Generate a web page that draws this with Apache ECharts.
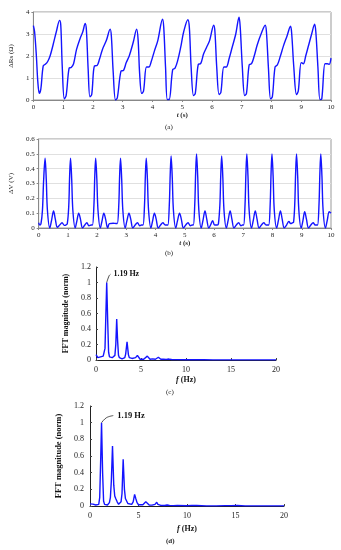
<!DOCTYPE html>
<html>
<head>
<meta charset="utf-8">
<script src="https://cdn.jsdelivr.net/npm/echarts@6/dist/echarts.min.js"></script>
<style>
html,body{margin:0;padding:0;background:#fff;}
#c{width:341px;height:550px;}
</style>
</head>
<body>
<div id="c"></div>
<script>
// ---- (a) ΔRs vs time ----
var tA = [0.00,0.04,0.10,0.15,0.20,0.25,0.33,0.40,0.48,0.56,0.66,0.77,0.88,0.92,0.97,1.04,1.10,1.20,1.27,1.35,1.45,1.57,1.66,1.74,1.78,1.84,1.90,1.96,2.05,2.14,2.22,2.32,2.45,2.58,2.62,2.68,2.76,2.82,2.94,3.03,3.12,3.22,3.35,3.47,3.52,3.57,3.64,3.70,3.80,3.88,3.96,4.06,4.18,4.34,4.38,4.44,4.50,4.56,4.68,4.76,4.85,4.95,5.05,5.19,5.24,5.30,5.38,5.44,5.54,5.62,5.72,5.82,5.92,6.06,6.10,6.16,6.24,6.30,6.40,6.48,6.58,6.68,6.80,6.91,6.95,7.02,7.10,7.16,7.25,7.33,7.42,7.52,7.65,7.79,7.83,7.90,7.97,8.03,8.12,8.20,8.30,8.40,8.52,8.64,8.68,8.75,8.84,8.90,9.00,9.07,9.15,9.25,9.35,9.45,9.49,9.56,9.63,9.69,9.80,9.88,9.94,10.00];
var vA = [3.38,3.10,2.0,0.8,0.30,0.5,1.55,1.62,1.75,2.0,2.5,3.1,3.62,3.4,1.5,0.05,0.2,1.45,1.48,1.65,2.3,2.8,3.1,3.48,3.2,1.4,0.15,0.25,1.55,1.57,1.85,2.3,2.7,3.22,2.9,1.3,0.0,0.1,1.3,1.35,1.7,2.0,2.6,3.22,2.7,1.2,0.3,0.4,1.5,1.5,1.75,2.2,2.7,3.67,3.3,1.5,0.02,0.02,1.38,1.45,1.8,2.4,3.1,3.65,3.3,1.5,0.2,0.3,1.62,1.65,2.1,2.4,2.7,3.4,3.1,1.5,0.25,0.35,1.5,1.5,1.9,2.4,3.0,3.76,3.3,1.5,0.2,0.3,1.6,1.65,2.0,2.5,3.0,3.40,3.1,1.4,0.05,0.15,1.5,1.6,2.0,2.45,2.9,3.35,3.0,1.5,0.25,0.4,1.7,1.65,2.0,2.5,3.0,3.44,3.1,1.5,0.02,0.05,1.65,1.65,1.62,1.90];

// ---- (b) ΔV vs time ----
var tB = [0.00,0.04,0.08,0.13,0.17,0.22,0.26,0.30,0.38,0.44,0.51,0.57,0.64,0.72,0.80,0.88,0.93,
0.98,1.03,1.06,1.09,1.13,1.17,1.25,1.31,1.37,1.43,1.50,1.58,1.65,1.72,1.80,
1.84,1.89,1.92,1.95,1.99,2.03,2.11,2.17,2.23,2.29,2.36,2.42,2.55,2.65,
2.69,2.74,2.77,2.80,2.84,2.88,2.96,3.02,3.09,3.15,3.22,3.30,3.38,3.46,3.52,
3.57,3.62,3.65,3.68,3.72,3.76,3.84,3.90,3.96,4.02,4.09,4.17,4.25,4.33,4.38,
4.42,4.47,4.50,4.53,4.57,4.61,4.69,4.75,4.82,4.88,4.95,5.03,5.11,5.19,5.25,
5.29,5.34,5.37,5.40,5.44,5.48,5.56,5.62,5.69,5.75,5.82,5.88,5.95,6.02,6.11,
6.15,6.20,6.23,6.26,6.30,6.34,6.42,6.48,6.55,6.61,6.68,6.76,6.84,6.92,6.97,
7.01,7.06,7.09,7.12,7.16,7.20,7.28,7.34,7.41,7.47,7.54,7.62,7.70,7.78,7.83,
7.87,7.92,7.95,7.98,8.02,8.06,8.14,8.20,8.27,8.33,8.40,8.48,8.56,8.62,8.68,
8.72,8.76,8.79,8.82,8.86,8.90,8.98,9.04,9.10,9.16,9.23,9.31,9.39,9.46,9.50,
9.54,9.59,9.62,9.65,9.69,9.73,9.81,9.87,9.94,10.00];
var vB = [0.035,0.02,0.03,0.12,0.32,0.47,0.33,0.12,0.0,0.05,0.115,0.06,0.005,0.02,0.035,0.018,0.02,
0.03,0.15,0.35,0.47,0.33,0.12,0.0,0.05,0.10,0.06,0.0,0.02,0.035,0.015,0.02,
0.02,0.15,0.35,0.47,0.33,0.12,0.0,0.05,0.10,0.06,0.0,0.03,0.032,0.03,
0.03,0.15,0.35,0.47,0.33,0.12,0.0,0.05,0.10,0.06,0.0,0.02,0.035,0.015,0.02,
0.02,0.15,0.35,0.47,0.33,0.12,0.0,0.05,0.10,0.06,0.0,0.02,0.035,0.02,0.02,
0.02,0.16,0.36,0.485,0.34,0.12,0.0,0.05,0.10,0.06,0.0,0.02,0.035,0.015,0.02,
0.02,0.16,0.37,0.50,0.35,0.12,0.0,0.05,0.115,0.06,0.0,0.02,0.05,0.02,0.02,
0.03,0.16,0.36,0.485,0.34,0.12,0.0,0.05,0.115,0.06,0.0,0.02,0.035,0.015,0.02,
0.02,0.16,0.37,0.50,0.35,0.12,0.0,0.05,0.115,0.06,0.0,0.02,0.035,0.02,0.02,
0.02,0.16,0.37,0.50,0.35,0.12,0.0,0.05,0.115,0.06,0.0,0.02,0.045,0.03,0.035,
0.04,0.16,0.37,0.50,0.35,0.12,0.0,0.05,0.11,0.06,0.0,0.02,0.035,0.02,0.02,
0.02,0.16,0.37,0.50,0.35,0.12,0.0,0.05,0.11,0.10];

// ---- (c) FFT ----
var fC = [0.0,0.1,0.2,0.3,0.4,0.5,0.6,0.7,0.8,0.9,1.0,1.1,1.19,1.3,1.4,1.5,1.6,1.7,1.8,1.9,2.0,2.1,2.2,2.3,2.4,2.5,2.6,2.7,2.8,2.9,3.0,3.1,3.2,3.3,3.45,3.6,3.7,3.8,3.9,4.0,4.2,4.4,4.6,4.75,4.9,5.1,5.3,5.5,5.7,5.85,6.0,6.3,6.6,6.8,6.93,7.05,7.2,7.5,7.8,8.1,8.4,9.0,10,11,12,13,14,15,16,17,18,19,20];
var mC = [0.07,0.06,0.03,0.05,0.02,0.04,0.065,0.04,0.05,0.06,0.15,0.6,1.0,0.5,0.1,0.04,0.02,0.035,0.03,0.01,0.03,0.06,0.2,0.53,0.25,0.06,0.03,0.02,0.03,0.015,0.01,0.025,0.03,0.08,0.235,0.07,0.03,0.015,0.01,0.02,0.015,0.03,0.06,0.035,0.01,0.005,0.01,0.02,0.05,0.03,0.01,0.015,0.01,0.02,0.035,0.02,0.01,0.01,0.008,0.012,0.006,0.005,0.004,0.003,0.003,0.002,0.002,0.002,0.002,0.002,0.002,0.002,0.002];

// ---- (d) FFT ----
var fD = [0.0,0.1,0.2,0.3,0.4,0.5,0.6,0.7,0.8,0.9,1.0,1.1,1.19,1.3,1.4,1.5,1.6,1.7,1.8,1.9,2.0,2.1,2.2,2.32,2.45,2.55,2.65,2.8,2.95,3.1,3.2,3.3,3.42,3.55,3.65,3.75,3.9,4.1,4.3,4.45,4.6,4.72,4.85,5.0,5.2,5.45,5.6,5.75,5.9,6.1,6.4,6.7,6.88,7.0,7.3,7.7,7.95,8.05,8.2,8.6,9.0,9.2,10.0,10.5,10.7,11.0,11.2,12,13,13.9,14.1,14.6,14.8,15.2,15.4,16,17,18,19,20];
var mD = [0.025,0.02,0.018,0.022,0.015,0.02,0.012,0.01,0.012,0.02,0.1,0.55,1.0,0.4,0.06,0.02,0.01,0.008,0.012,0.02,0.04,0.1,0.3,0.72,0.25,0.12,0.09,0.05,0.02,0.02,0.05,0.15,0.56,0.2,0.09,0.07,0.03,0.015,0.02,0.05,0.14,0.09,0.04,0.015,0.008,0.015,0.03,0.05,0.03,0.012,0.01,0.02,0.045,0.02,0.008,0.006,0.012,0.02,0.008,0.005,0.008,0.004,0.003,0.007,0.003,0.006,0.003,0.002,0.002,0.005,0.002,0.004,0.002,0.006,0.002,0.002,0.002,0.002,0.002,0.002];

// ---- annotations ----
var peakLabel = '1.19 Hz';
var leaderC = [[1.19,1.0],[1.45,1.085],[1.6,1.105]];
var leaderD = [[1.19,1.0],[1.7,1.06],[2.4,1.085]];

function zip(a,b){var r=[];for(var i=0;i<a.length;i++){r.push([a[i],b[i]]);}return r;}

var SERIF = "'Liberation Serif','DejaVu Serif',serif";
var BLUE = '#1414ff';

function timeX(idx){
  return {type:'value',gridIndex:idx,min:0,max:10,interval:1,
    name:'{i|t} (s)',nameLocation:'middle',nameGap:12,
    nameTextStyle:{fontFamily:SERIF,fontSize:7,fontWeight:'bold',color:'#222',rich:{i:{fontStyle:'italic',fontFamily:SERIF,fontSize:7,fontWeight:'bold',color:'#222'}}},
    axisLine:{show:true,lineStyle:{color:'#888',width:1}},
    axisTick:{show:true,length:2,lineStyle:{color:'#888'}},
    axisLabel:{fontFamily:SERIF,fontSize:7,color:'#222',margin:4},
    splitLine:{show:false}};
}
function fftX(idx,gap){
  return {type:'value',gridIndex:idx,min:0,max:20,interval:5,
    name:'{i|f} (Hz)',nameLocation:'middle',nameGap:gap,
    nameTextStyle:{fontFamily:SERIF,fontSize:8,fontWeight:'bold',color:'#111',rich:{i:{fontStyle:'italic',fontFamily:SERIF,fontSize:8,fontWeight:'bold',color:'#111'}}},
    axisLine:{show:true,lineStyle:{color:'#222',width:1}},
    axisTick:{show:true,inside:true,length:2,lineStyle:{color:'#444'}},
    axisLabel:{fontFamily:SERIF,fontSize:8,color:'#222',margin:6},
    splitLine:{show:false}};
}

var option = {
  animation:false,
  backgroundColor:'#fff',
  grid:[
    {left:29,top:12,width:302,height:88,show:true,borderColor:'#999',borderWidth:1},
    {left:29,top:139,width:302,height:89,show:true,borderColor:'#999',borderWidth:1},
    {left:96,top:267,width:180,height:93},
    {left:90,top:406,width:194,height:100}
  ],
  xAxis:[timeX(0),timeX(1),fftX(2,16),fftX(3,19)],
  yAxis:[
    {type:'value',gridIndex:0,min:0,max:4,interval:1,name:'ΔRs (Ω)',nameLocation:'middle',nameGap:15,
      nameTextStyle:{fontFamily:SERIF,fontSize:7,color:'#222'},
      axisLine:{show:true,lineStyle:{color:'#888'}},axisTick:{show:true,length:2,lineStyle:{color:'#888'}},
      axisLabel:{fontFamily:SERIF,fontSize:7,color:'#222',margin:4},
      splitLine:{show:true,lineStyle:{color:'#e0e0e0',width:1}}},
    {type:'value',gridIndex:1,min:0,max:0.6,interval:0.1,name:'ΔV (V)',nameLocation:'middle',nameGap:17,
      nameTextStyle:{fontFamily:SERIF,fontSize:7,color:'#222'},
      axisLine:{show:true,lineStyle:{color:'#888'}},axisTick:{show:true,length:2,lineStyle:{color:'#888'}},
      axisLabel:{fontFamily:SERIF,fontSize:7,color:'#222',margin:4},
      splitLine:{show:true,lineStyle:{color:'#e0e0e0',width:1}}},
    {type:'value',gridIndex:2,min:0,max:1.2,interval:0.2,name:'FFT magnitude (norm)',nameLocation:'middle',nameGap:21,
      nameTextStyle:{fontFamily:SERIF,fontSize:8,fontWeight:'bold',color:'#111'},
      axisLine:{show:true,lineStyle:{color:'#222'}},axisTick:{show:true,inside:true,length:2,lineStyle:{color:'#444'}},
      axisLabel:{fontFamily:SERIF,fontSize:8,color:'#222',margin:5},
      splitLine:{show:false}},
    {type:'value',gridIndex:3,min:0,max:1.2,interval:0.2,name:'FFT magnitude (norm)',nameLocation:'middle',nameGap:22,
      nameTextStyle:{fontFamily:SERIF,fontSize:8.5,fontWeight:'bold',color:'#111'},
      axisLine:{show:true,lineStyle:{color:'#222'}},axisTick:{show:true,inside:true,length:2,lineStyle:{color:'#444'}},
      axisLabel:{fontFamily:SERIF,fontSize:8,color:'#222',margin:6},
      splitLine:{show:false}}
  ],
  series:[
    {type:'line',xAxisIndex:0,yAxisIndex:0,data:zip(tA,vA),showSymbol:false,smooth:0.35,
      lineStyle:{color:BLUE,width:1.4}},
    {type:'line',xAxisIndex:1,yAxisIndex:1,data:zip(tB,vB),showSymbol:false,smooth:0.35,
      lineStyle:{color:BLUE,width:1.4}},
    {type:'line',xAxisIndex:2,yAxisIndex:2,data:zip(fC,mC),showSymbol:false,smooth:false,
      lineStyle:{color:BLUE,width:1.4}},
    {type:'line',xAxisIndex:3,yAxisIndex:3,data:zip(fD,mD),showSymbol:false,smooth:false,
      lineStyle:{color:BLUE,width:1.4}},
    {type:'line',xAxisIndex:2,yAxisIndex:2,data:leaderC,showSymbol:false,smooth:0.4,
      lineStyle:{color:'#222',width:0.8},
      endLabel:{show:true,formatter:peakLabel,distance:3,fontFamily:SERIF,fontSize:8,fontWeight:'bold',color:'#111'}},
    {type:'line',xAxisIndex:3,yAxisIndex:3,data:leaderD,showSymbol:false,smooth:0.4,
      lineStyle:{color:'#222',width:0.8},
      endLabel:{show:true,formatter:peakLabel,distance:4,fontFamily:SERIF,fontSize:8.5,fontWeight:'bold',color:'#111'}}
  ],
  graphic:[
    {type:'text',left:165,top:124,style:{text:'(a)',font:'7px '+SERIF,fill:'#222'}},
    {type:'text',left:165,top:250,style:{text:'(b)',font:'7px '+SERIF,fill:'#222'}},
    {type:'text',left:166,top:389,style:{text:'(c)',font:'7px '+SERIF,fill:'#222'}},
    {type:'text',left:166,top:538,style:{text:'(d)',font:'bold 7px '+SERIF,fill:'#222'}}
  ]
};
var chart = echarts.init(document.getElementById('c'),null,{renderer:'canvas'});
chart.setOption(option);
</script>
</body>
</html>
